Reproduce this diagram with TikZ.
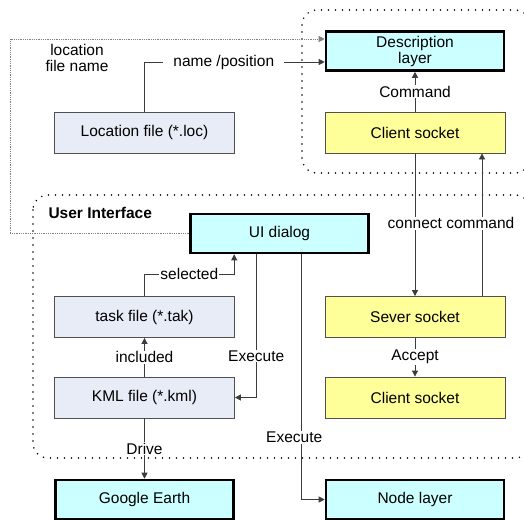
\documentclass[tikz,border=0pt]{standalone}
\usepackage{fontspec}
\setmainfont{Liberation Sans}
\usetikzlibrary{arrows.meta}
\definecolor{layercyan}{RGB}{204,255,255}
\definecolor{socketyellow}{RGB}{255,255,153}
\definecolor{filegray}{RGB}{231,236,246}
\definecolor{edgegray}{RGB}{80,80,80}
\definecolor{wiregray}{RGB}{60,60,60}

\begin{document}
\begin{tikzpicture}[
  x=1pt, y=-1pt,
  font=\fontsize{15.5}{16}\selectfont,
  filebox/.style={
    draw=edgegray,
    fill=filegray,
    line width=0.8pt,
    minimum width=180pt,
    minimum height=41pt,
    inner sep=0pt,
    align=center
  },
  socketbox/.style={
    draw=edgegray,
    fill=socketyellow,
    line width=0.8pt,
    minimum width=180pt,
    minimum height=41pt,
    inner sep=0pt,
    align=center
  },
  layerbox/.style={
    draw=black,
    fill=layercyan,
    line width=2.6pt,
    minimum width=178pt,
    minimum height=39pt,
    inner sep=0pt,
    align=center
  },
  line/.style={-{Triangle[length=6pt,width=6pt]}, line width=0.8pt, draw=wiregray},
  fileline/.style={-{Triangle[length=6pt,width=6pt]}, line width=0.8pt, draw=gray, densely dotted},
  lbl/.style={fill=white, inner xsep=2pt, inner ysep=1pt},
  group/.style={line width=1.7pt, line cap=round, dash pattern=on 0pt off 7pt, rounded corners=15pt}
]

\clip (0,0) rectangle (524,519);
\fill[white] (0,0) rectangle (524,519);

% Grouping regions
\draw[group] (302,10) rectangle (530,173);
\draw[group] (33,195) rectangle (530,458);
\node[anchor=west, font=\fontsize{15.5}{16}\selectfont\bfseries] (uilabel) at (45,213) {User Interface};

% Top row
\node[layerbox] (desc) at (415,51) {Description\\layer};
\node[filebox] (locfile) at (144.5,132.5) {Location file (*.loc)};
\node[socketbox] (csockA) at (415,132.5) {Client socket};
\node[align=center] (lfname) at (77,58) {location\\file name};

% User interface
\node[layerbox] (ui) at (279.5,233.5) {UI dialog};
\node[filebox] (task) at (144.5,317) {task file (*.tak)};
\node[filebox] (kml) at (144.5,397.5) {KML file (*.kml)};
\node[socketbox] (ssock) at (415,317) {Sever socket};
\node[socketbox] (csockB) at (415,397.5) {Client socket};

% Bottom row
\node[layerbox] (google) at (144.5,499.5) {Google Earth};
\node[layerbox] (nodelayer) at (415,499.5) {Node layer};

\coordinate (lfcorner) at (10,39);

% Connections
\draw[fileline] (ui.west) -| (lfcorner) -- ([yshift=12pt]desc.west);
\draw[line] (locfile.north) |- node[lbl, pos=0.72, inner xsep=10pt] {name /position} ([yshift=-11pt]desc.west);
\draw[line] (csockA) -- node[lbl] {Command} (desc);
\draw[line] ([xshift=67pt]ssock.north) -- ([xshift=67pt]csockA.south);
\draw[line] (csockA) -- node[lbl, xshift=36pt, pos=0.49] {connect command} (ssock);
\draw[line] (ssock) -- node[lbl] {Accept} (csockB);
\draw[line] (task.north) -- ++(0,-22) -| node[lbl, pos=0.25, inner xsep=1pt] {selected} ([xshift=45pt]ui.south west);
\draw[line] (kml) -- node[lbl] {included} (task);
\draw[line] ([xshift=67pt]ui.south west) |- node[lbl, pos=0.355] {Execute} (kml.east);
\draw[line] ([xshift=112pt]ui.south west) |- node[lbl, pos=0.373, xshift=-7pt] {Execute} (nodelayer.west);
\draw[line] (kml) -- node[lbl] {Drive} (google);

\end{tikzpicture}
\end{document}
